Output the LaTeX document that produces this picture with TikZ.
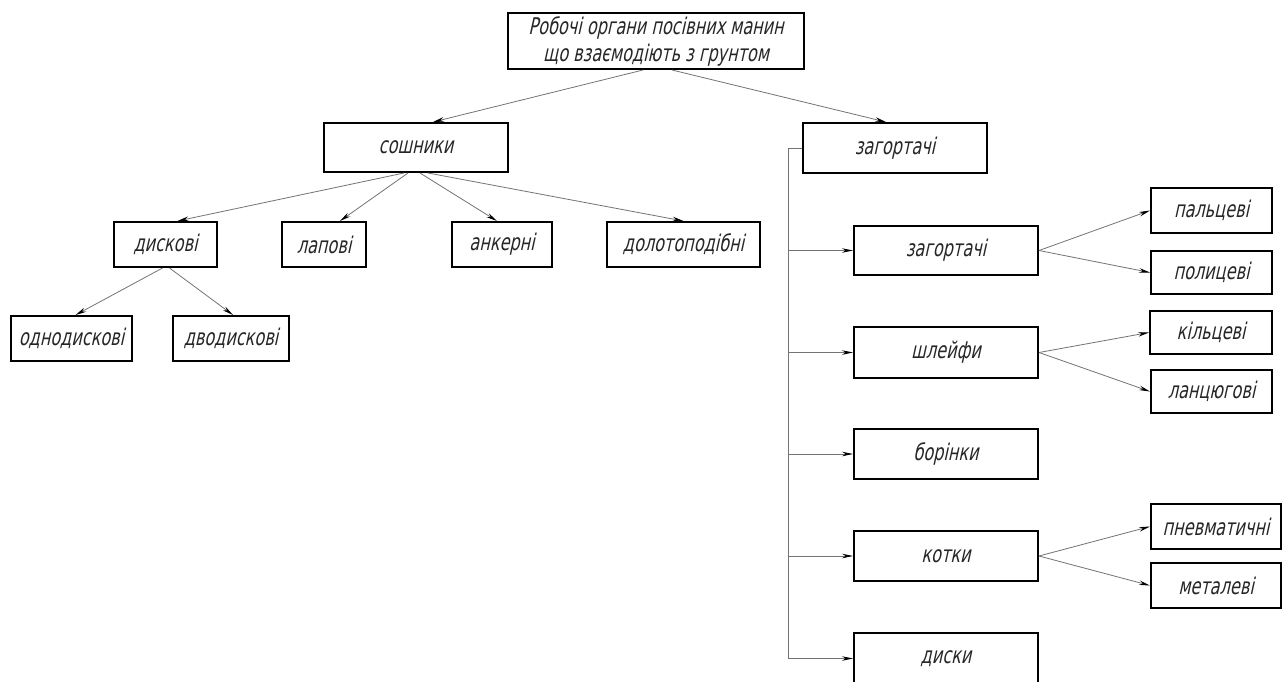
\documentclass[tikz,border=0pt]{standalone}
\usepackage{fontspec}
\setmainfont{DejaVu Sans}[FakeSlant=0.22, FakeStretch=0.7]
\usetikzlibrary{arrows.meta,calc}
\begin{document}
\begin{tikzpicture}[x=1pt,y=-1pt,
  box/.style={draw=black, line width=2pt, inner sep=0pt, text=black!85,
    font=\fontsize{23}{27}\selectfont, align=center},
  conn/.style={draw=black!55, line width=0.8pt,
    -{Stealth[length=11pt,width=4.5pt,color=black]}},
  busline/.style={draw=black!55, line width=0.9pt}
]
\useasboundingbox (0,0) rectangle (1284,681);
% nodes
\node[box, minimum width=296, minimum height=56] (root) at (656,41)
  {Робочі органи посівних манин\\що взаємодіють з грунтом};
\node[box, minimum width=184, minimum height=49] (sosh) at (416,147.5) {сошники};
\node[box, minimum width=184, minimum height=50] (zag) at (895,148) {загортачі};
\node[box, minimum width=103, minimum height=45] (disk) at (165.5,244.5) {дискові};
\node[box, minimum width=84, minimum height=45] (lap) at (324,244.5) {лапові};
\node[box, minimum width=100, minimum height=45] (ank) at (502,244.5) {анкерні};
\node[box, minimum width=153, minimum height=45] (dol) at (683.5,244.5) {долотоподібні};
\node[box, minimum width=121, minimum height=45] (odno) at (71.5,338.5) {однодискові};
\node[box, minimum width=116, minimum height=45] (dvo) at (231,338.5) {дводискові};
\node[box, minimum width=184, minimum height=49] (zag2) at (946,250.5) {загортачі};
\node[box, minimum width=184, minimum height=51] (shl) at (946,352.5) {шлейфи};
\node[box, minimum width=184, minimum height=50] (bor) at (946,454) {борінки};
\node[box, minimum width=184, minimum height=50] (kot) at (946,556) {котки};
\node[box, minimum width=184, minimum height=51] (dys) at (946,658.5) {диски};
\node[box, minimum width=121, minimum height=45] (palc) at (1211.5,210.5) {пальцеві};
\node[box, minimum width=121, minimum height=43] (polc) at (1211.5,272.5) {полицеві};
\node[box, minimum width=122, minimum height=43] (kilc) at (1211,332.5) {кільцеві};
\node[box, minimum width=121, minimum height=43] (lanc) at (1211.5,391.5) {ланцюгові};
\node[box, minimum width=130, minimum height=45] (pnev) at (1216,526.5) {пневматичні};
\node[box, minimum width=130, minimum height=45] (met) at (1216,585.5) {металеві};
% root connectors
\draw[conn] ($(root.south)+(-13,0)$) -- ($(sosh.north)+(17,0)$);
\draw[conn] ($(root.south)+(16,0)$) -- ($(zag.north)+(-9,0)$);
% sowing connectors
\draw[conn] ($(sosh.south)+(-12,0)$) -- ($(disk.north)+(12,0)$);
\draw[conn] ($(sosh.south)+(-8,0)$) -- ($(lap.north)+(16,0)$);
\draw[conn] ($(sosh.south)+(4,0)$) -- ($(ank.north)+(-5,0)$);
\draw[conn] ($(sosh.south)+(12,0)$) -- (dol.north);
\draw[conn] ($(disk.south)+(-3,0)$) -- ($(odno.north)+(4,0)$);
\draw[conn] ($(disk.south)+(4,0)$) -- ($(dvo.north)+(2,0)$);
% bus
\coordinate (bus) at (788,0);
\draw[busline] (zag.west) -- (zag.west -| bus) -- (dys.west -| bus);
\foreach \n in {zag2,shl,bor,kot,dys}
  \draw[conn] (\n.west -| bus) -- (\n.west);
% third level
\draw[conn] (zag2.east) -- (palc.west);
\draw[conn] (zag2.east) -- (polc.west);
\draw[conn] (shl.east) -- (kilc.west);
\draw[conn] (shl.east) -- (lanc.west);
\draw[conn] (kot.east) -- (pnev.west);
\draw[conn] (kot.east) -- (met.west);
\end{tikzpicture}
\end{document}
